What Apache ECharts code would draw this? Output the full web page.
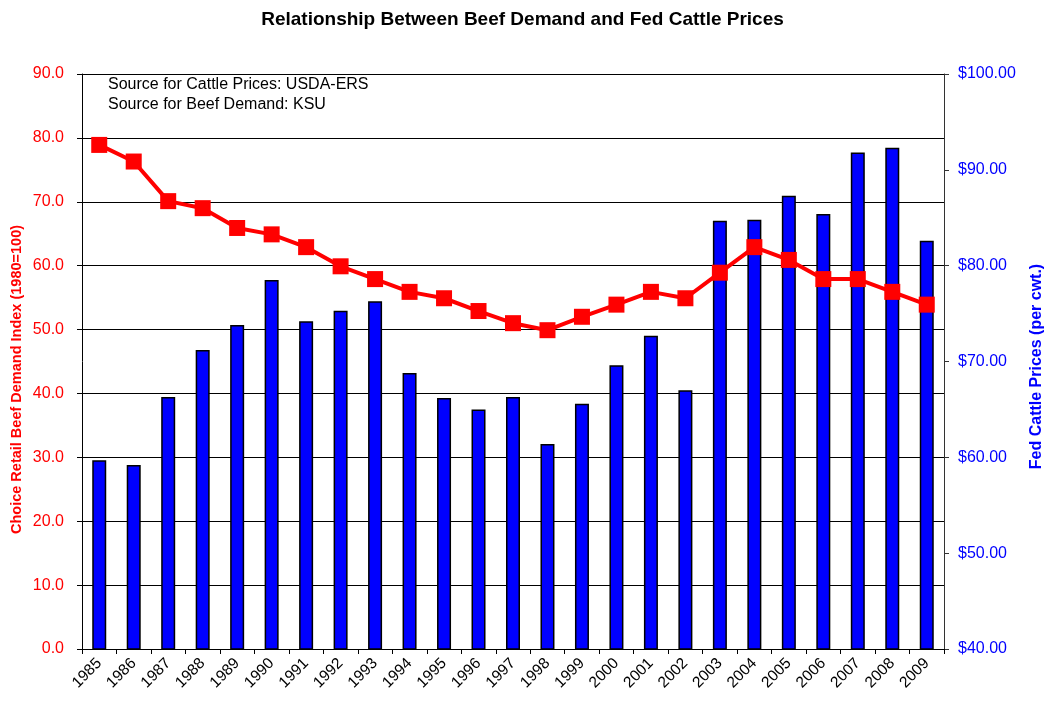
<!DOCTYPE html>
<html>
<head>
    <meta charset="UTF-8">
    <title>Relationship Between Beef Demand and Fed Cattle Prices</title>
    <script type="text/javascript" src="https://cdn.jsdelivr.net/npm/echarts@6/dist/echarts.min.js"></script>
</head>
<body style="margin: 0;overflow: hidden;background: #fff;width: 1045px;height: 701px;">
<div id="chart" style="width: 1045px;height: 701px"></div>
<script type="text/javascript">
    var years = ['1985', '1986', '1987', '1988', '1989', '1990', '1991', '1992', '1993', '1994',
        '1995', '1996', '1997', '1998', '1999', '2000', '2001', '2002', '2003', '2004',
        '2005', '2006', '2007', '2008', '2009'];
    // fed cattle prices, $ per cwt (right axis)
    var cattlePrices = [59.7, 59.2, 66.3, 71.2, 73.8, 78.5, 74.2, 75.3, 76.3, 68.8,
        66.2, 65.0, 66.3, 61.4, 65.6, 69.6, 72.7, 67.0, 84.7, 84.8,
        87.3, 85.4, 91.8, 92.3, 82.6];
    // beef demand index, 1980=100 (left axis)
    var demandIndex = [78.9, 76.3, 70.1, 69.0, 65.9, 64.9, 62.9, 59.9, 57.9, 55.9,
        54.9, 52.9, 51.0, 49.9, 52.0, 53.9, 55.9, 54.9, 58.9, 62.9,
        60.9, 57.9, 57.9, 55.9, 53.9];
    var sourceLines = ['Source for Cattle Prices: USDA-ERS', 'Source for Beef Demand: KSU'];

    var font = '"Liberation Sans", Arial, sans-serif';
    var chart = echarts.init(document.getElementById('chart'));
    var option = {
        backgroundColor: '#fff',
        animation: false,
        textStyle: {fontFamily: font},
        title: {
            text: 'Relationship Between Beef Demand and Fed Cattle Prices',
            left: 'center',
            top: 5,
            textStyle: {fontSize: 19, fontWeight: 'bold', color: '#000', fontFamily: font}
        },
        graphic: [{
            type: 'text',
            left: 108,
            top: 75,
            style: {
                text: sourceLines.join('\n'),
                font: '16px ' + font,
                lineHeight: 20,
                fill: '#000'
            }
        }],
        grid: {left: 82, right: 101, top: 74, bottom: 52, containLabel: false, outerBoundsMode: 'none'},
        xAxis: {
            type: 'category',
            data: years,
            boundaryGap: true,
            axisLine: {lineStyle: {color: '#000', width: 1}},
            axisTick: {show: true, alignWithLabel: false, length: 5, lineStyle: {color: '#000'}},
            axisLabel: {rotate: 45, color: '#000', fontSize: 15.5, margin: 12, interval: 0}
        },
        yAxis: [{
            type: 'value',
            min: 0,
            max: 90,
            interval: 10,
            name: 'Choice Retail Beef Demand Index (1980=100)',
            nameLocation: 'middle',
            nameGap: 58,
            nameMoveOverlap: false,
            nameTextStyle: {color: '#FF0000', fontWeight: 'bold', fontSize: 14.5, padding: [0, 0, 0, -36]},
            axisLine: {show: true, lineStyle: {color: '#000'}},
            axisTick: {show: true, length: 5, lineStyle: {color: '#000'}},
            axisLabel: {
                color: '#FF0000', fontSize: 16, margin: 18,
                formatter: function (v) { return v.toFixed(1); }
            },
            splitLine: {show: true, lineStyle: {color: '#000', width: 1}}
        }, {
            type: 'value',
            min: 40,
            max: 100,
            interval: 10,
            position: 'right',
            name: 'Fed Cattle Prices (per cwt.)',
            nameLocation: 'middle',
            nameGap: 85,
            nameTextStyle: {color: '#0000FF', fontWeight: 'bold', fontSize: 16, padding: [0, 0, 0, -10]},
            axisLine: {show: true, lineStyle: {color: '#333'}},
            axisTick: {show: true, length: 5, lineStyle: {color: '#333'}},
            axisLabel: {
                color: '#0000FF', fontSize: 16, margin: 14,
                formatter: function (v) { return '$' + v.toFixed(2); }
            },
            splitLine: {show: false}
        }],
        series: [{
            name: 'Fed Cattle Prices',
            type: 'bar',
            yAxisIndex: 1,
            data: cattlePrices,
            barWidth: 14,
            itemStyle: {color: '#0000FF', borderColor: '#000', borderWidth: 1.5},
            z: 2
        }, {
            name: 'Beef Demand Index',
            type: 'line',
            yAxisIndex: 0,
            data: demandIndex,
            symbol: 'rect',
            symbolSize: 16,
            lineStyle: {color: '#FF0000', width: 4},
            itemStyle: {color: '#FF0000'},
            z: 3
        }]
    };
    chart.setOption(option);
</script>
</body>
</html>
